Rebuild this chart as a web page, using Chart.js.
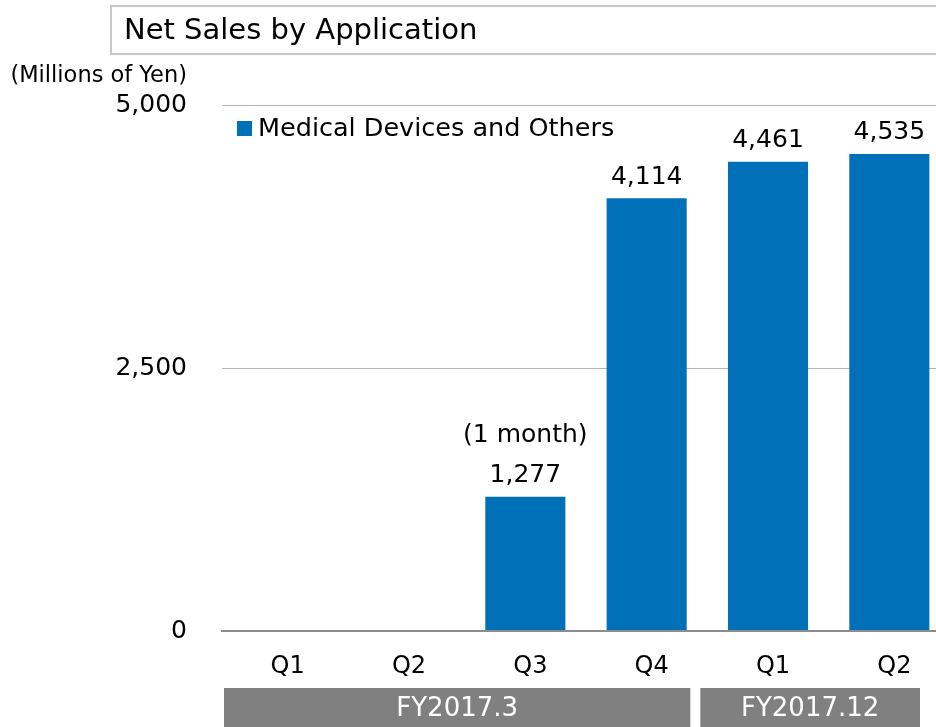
<!DOCTYPE html>
<html>
<head>
<meta charset="utf-8">
<script src="https://cdn.jsdelivr.net/npm/chart.js@4.4.1/dist/chart.umd.min.js"></script>
<style>
  html, body { margin: 0; padding: 0; background: #ffffff; overflow: hidden; }
  #wrap { position: relative; width: 950px; height: 727px; }
  #title {
    position: absolute; left: 110px; top: 5px; width: 900px; height: 46px;
    border: 2px solid #c8c8c8; box-sizing: content-box;
    font: 29px "DejaVu Sans", sans-serif; color: #000; line-height: 44px;
    padding-left: 12px;
  }
</style>
</head>
<body>
<div id="wrap">
  <canvas id="chart" width="950" height="727"></canvas>
  <div id="title">Net Sales by Application</div>
</div>
<script>
(() => {
    'use strict';

    const quarters = ['Q1', 'Q2', 'Q3', 'Q4', 'Q1', 'Q2'];
    const medicalSales = [null, null, 1277, 4114, 4461, 4535];
    const notes = ['', '', '(1 month)', '', '', ''];
    const fiscalYears = ['FY2017.3', 'FY2017.12'];
    const quartersPerYear = [4, 2];
    const yTicks = [0, 2500, 5000];

    const font = '"DejaVu Sans", sans-serif';
    const barColor = '#0070b9';

    const annotations = {
        id: 'annotations',
        afterDatasetsDraw(chart) {
            const ctx = chart.ctx;
            const meta = chart.getDatasetMeta(0);
            ctx.save();
            ctx.fillStyle = '#000000';
            ctx.font = `25px ${font}`;
            ctx.textAlign = 'center';
            ctx.textBaseline = 'middle';
            meta.data.forEach((bar, i) => {
                const value = medicalSales[i];
                if (value === null) {
                    return;
                }
                ctx.fillText(value.toLocaleString('en-US'), bar.x, bar.y - 21);
                if (notes[i]) {
                    ctx.fillText(notes[i], bar.x, bar.y - 61);
                }
            });

            // legend inside the plot
            const area = chart.chartArea;
            ctx.fillStyle = barColor;
            ctx.fillRect(area.left + 15, area.top + 16, 15, 15);
            ctx.fillStyle = '#000000';
            ctx.textAlign = 'left';
            ctx.font = `25.5px ${font}`;
            ctx.fillText(chart.data.datasets[0].label, area.left + 36, area.top + 24);

            // unit label
            ctx.font = `22.5px ${font}`;
            ctx.textAlign = 'right';
            ctx.fillText('(Millions of Yen)', 187, 76);
            ctx.restore();
        },
        afterDraw(chart) {
            const ctx = chart.ctx;
            const x = chart.scales.x;
            const step = x.getPixelForValue(1) - x.getPixelForValue(0);
            const edge = (i) => x.getPixelForValue(0) - step / 2 + step * i;
            const insets = [[2, -17], [-7, -30]];
            ctx.save();
            ctx.font = `26px ${font}`;
            ctx.textAlign = 'center';
            ctx.textBaseline = 'middle';
            let start = 0;
            fiscalYears.forEach((label, g) => {
                const end = start + quartersPerYear[g];
                const x1 = edge(start) + insets[g][0];
                const x2 = edge(end) + insets[g][1];
                ctx.fillStyle = '#808080';
                ctx.fillRect(x1, 688, x2 - x1, 39);
                ctx.fillStyle = '#ffffff';
                ctx.fillText(label, (x1 + x2) / 2, 709);
                start = end;
            });
            ctx.restore();
        },
    };

    new Chart(document.getElementById('chart'), {
        type: 'bar',
        data: {
            labels: quarters,
            datasets: [{
                label: 'Medical Devices and Others',
                data: medicalSales,
                backgroundColor: barColor,
                borderWidth: 0,
                barPercentage: 0.66,
                categoryPercentage: 1,
            }],
        },
        plugins: [annotations],
        options: {
            responsive: false,
            animation: false,
            events: [],
            layout: {
                padding: { top: 105, left: 0, right: 0, bottom: 0 },
            },
            plugins: {
                legend: { display: false },
                tooltip: { enabled: false },
                title: { display: false },
            },
            scales: {
                x: {
                    grid: { display: false, drawTicks: false },
                    border: { display: true, color: '#8c8c8c', width: 2 },
                    ticks: {
                        color: '#000000',
                        padding: 21,
                        labelOffset: 5,
                        font: { family: font, size: 24 },
                    },
                    afterFit(scale) {
                        scale.height = 96;
                    },
                },
                y: {
                    min: 0,
                    max: 5000,
                    afterBuildTicks(scale) {
                        scale.ticks = yTicks.map((value) => ({ value }));
                    },
                    grid: {
                        drawTicks: false,
                        color: (c) => (c.tick && c.tick.value === 0 ? '#8c8c8c' : '#b4b4b4'),
                        lineWidth: (c) => (c.tick && c.tick.value === 0 ? 2 : 1),
                    },
                    border: { display: false },
                    ticks: {
                        color: '#000000',
                        padding: 35,
                        font: { family: font, size: 25 },
                        callback: (value) => Number(value).toLocaleString('en-US'),
                    },
                    afterFit(scale) {
                        scale.width = 222;
                    },
                },
            },
        },
    });
})();
</script>
</body>
</html>
